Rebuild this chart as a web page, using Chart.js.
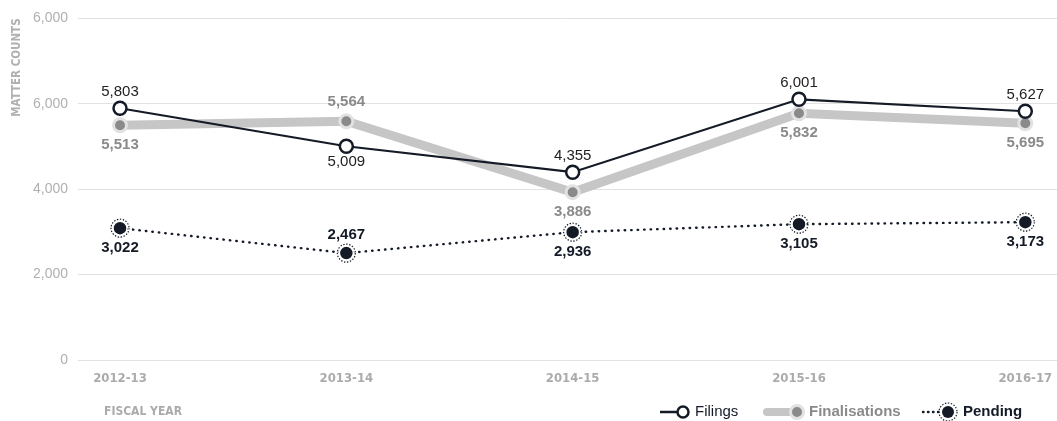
<!DOCTYPE html>
<html>
<head>
<meta charset="utf-8">
<script src="https://cdn.jsdelivr.net/npm/chart.js@4.4.1/dist/chart.umd.min.js"></script>
<style>
  html, body { margin: 0; padding: 0; background: #fff; }
  #wrap { width: 1057px; height: 421px; position: relative; }
</style>
</head>
<body>
<div id="wrap"><canvas id="myChart" width="1057" height="421"></canvas></div>
<script>
// Chart data
var fiscalYears = ['2012-13', '2013-14', '2014-15', '2015-16', '2016-17'];
// values
var filings = [5895, 5006, 4398, 6105, 5825];
var finalisations = [5497, 5590, 3930, 5778, 5544];
var pending = [3088, 2503, 2994, 3181, 3228];
// numbers printed next to each marker
var filingsPrinted = [5803, 5009, 4355, 6001, 5627];
var finalisationsPrinted = [5513, 5564, 3886, 5832, 5695];
var pendingPrinted = [3022, 2467, 2936, 3105, 3173];
// y axis ticks (top label reads 6,000 in the original)
var yTickValues = [0, 2000, 4000, 6000, 8000];
var yTickLabels = ['0', '2,000', '4,000', '6,000', '6,000'];

var NAVY = '#141a26';
var NARROW = '"Liberation Sans Narrow", "DejaVu Sans Condensed", "Arial Narrow", sans-serif';
var SANS = '"Liberation Sans", Arial, sans-serif';

function toPoints(values) {
    return values.map(function(v, i) { return { x: i, y: v }; });
}

// Plugin for data labels, dotted rings, legend and x title
var extras = {
    id: 'extras',
    afterDatasetsDraw: function(chart) {
        var ctx = chart.ctx;
        ctx.save();
        // dotted rings round the pending markers
        chart.getDatasetMeta(2).data.forEach(function(p) {
            ctx.beginPath();
            ctx.setLineDash([1.4, 1.6]);
            ctx.lineWidth = 1.2;
            ctx.strokeStyle = NAVY;
            ctx.arc(p.x, p.y, 9, 0, Math.PI * 2);
            ctx.stroke();
        });
        ctx.setLineDash([]);
        // value labels
        ctx.textAlign = 'center';
        ctx.textBaseline = 'middle';
        chart.data.datasets.forEach(function(ds, di) {
            var meta = chart.getDatasetMeta(di);
            ctx.font = ds.labelFont;
            ctx.fillStyle = ds.labelColor;
            meta.data.forEach(function(p, i) {
                var dy = ds.labelSide[i] === 'above' ? -ds.labelGap[0] : ds.labelGap[1];
                ctx.fillText(ds.printed[i].toLocaleString('en-US'), p.x, p.y + dy);
            });
        });
        ctx.restore();
    },
    afterDraw: function(chart) {
        var ctx = chart.ctx;
        var y = 412;
        ctx.save();
        ctx.textBaseline = 'middle';
        ctx.textAlign = 'left';

        // x axis title
        ctx.font = 'bold 12px ' + NARROW;
        ctx.fillStyle = '#ababab';
        ctx.fillText('FISCAL YEAR', 104, y);

        // Filings
        ctx.strokeStyle = NAVY;
        ctx.lineWidth = 2.5;
        ctx.beginPath(); ctx.moveTo(660, y); ctx.lineTo(678, y); ctx.stroke();
        ctx.beginPath(); ctx.arc(683, y, 5.5, 0, Math.PI * 2);
        ctx.fillStyle = '#fff'; ctx.fill(); ctx.stroke();
        ctx.font = '15px ' + SANS;
        ctx.fillStyle = NAVY;
        ctx.fillText('Filings', 695, y);

        // Finalisations
        ctx.strokeStyle = '#c6c6c6';
        ctx.lineWidth = 8;
        ctx.lineCap = 'round';
        ctx.beginPath(); ctx.moveTo(767, y); ctx.lineTo(797, y); ctx.stroke();
        ctx.lineCap = 'butt';
        ctx.beginPath(); ctx.arc(797, y, 6.5, 0, Math.PI * 2);
        ctx.fillStyle = '#8a8a8a'; ctx.fill();
        ctx.strokeStyle = '#e2e2e2'; ctx.lineWidth = 3; ctx.stroke();
        ctx.font = 'bold 15px ' + SANS;
        ctx.fillStyle = '#8a8a8a';
        ctx.fillText('Finalisations', 809, y);

        // Pending
        ctx.strokeStyle = NAVY;
        ctx.lineWidth = 2.4;
        ctx.lineCap = 'round';
        ctx.setLineDash([0.5, 4.5]);
        ctx.beginPath(); ctx.moveTo(923, y); ctx.lineTo(939, y); ctx.stroke();
        ctx.setLineDash([]);
        ctx.lineCap = 'butt';
        ctx.beginPath(); ctx.arc(948, y, 6, 0, Math.PI * 2);
        ctx.fillStyle = NAVY; ctx.fill();
        ctx.setLineDash([1.4, 1.6]);
        ctx.lineWidth = 1.2;
        ctx.beginPath(); ctx.arc(948, y, 9, 0, Math.PI * 2); ctx.stroke();
        ctx.setLineDash([]);
        ctx.font = 'bold 15px ' + SANS;
        ctx.fillStyle = NAVY;
        ctx.fillText('Pending', 963, y);

        ctx.restore();
    }
};

var ctx = document.getElementById('myChart').getContext('2d');
var myChart = new Chart(ctx, {
    type: 'line',
    data: {
        datasets: [{
            label: 'Filings',
            data: toPoints(filings),
            printed: filingsPrinted,
            labelSide: ['above', 'below', 'above', 'above', 'above'],
            labelGap: [16, 16],
            labelFont: '15px ' + SANS,
            labelColor: '#222',
            borderColor: NAVY,
            borderWidth: 2.2,
            pointRadius: 6.5,
            pointBorderWidth: 2.5,
            pointBackgroundColor: '#fff',
            pointBorderColor: NAVY,
            tension: 0
        },
        {
            label: 'Finalisations',
            data: toPoints(finalisations),
            printed: finalisationsPrinted,
            labelSide: ['below', 'above', 'below', 'below', 'below'],
            labelGap: [19, 20],
            labelFont: 'bold 15px ' + SANS,
            labelColor: '#8a8a8a',
            borderColor: '#c6c6c6',
            borderWidth: 9,
            pointRadius: 6.5,
            pointBorderWidth: 3,
            pointBackgroundColor: '#8a8a8a',
            pointBorderColor: '#e2e2e2',
            tension: 0
        },
        {
            label: 'Pending',
            data: toPoints(pending),
            printed: pendingPrinted,
            labelSide: ['below', 'above', 'below', 'below', 'below'],
            labelGap: [18, 20],
            labelFont: 'bold 15px ' + SANS,
            labelColor: NAVY,
            borderColor: NAVY,
            borderWidth: 2.4,
            borderCapStyle: 'round',
            borderDash: [0.5, 6],
            pointRadius: 7,
            pointBorderWidth: 1.5,
            pointBackgroundColor: NAVY,
            pointBorderColor: '#fff',
            tension: 0
        }]
    },
    options: {
        responsive: false,
        animation: false,
        layout: { autoPadding: false, padding: { top: 18, left: 0, right: 0, bottom: 0 } },
        plugins: {
            legend: { display: false },
            tooltip: { enabled: false }
        },
        scales: {
            x: {
                type: 'linear',
                min: -0.1856,
                max: 4.14,
                grid: { display: false },
                border: { display: false },
                afterBuildTicks: function(scale) {
                    scale.ticks = fiscalYears.map(function(c, i) { return { value: i }; });
                },
                afterFit: function(scale) { scale.height = 61; },
                ticks: {
                    padding: 3,
                    maxRotation: 0,
                    autoSkip: false,
                    color: '#ababab',
                    font: { family: NARROW, size: 13, weight: 'bold' },
                    callback: function(value) { return fiscalYears[value]; }
                }
            },
            y: {
                min: 0,
                max: 8000,
                grid: { color: '#e2e2e2', lineWidth: 1, drawTicks: false },
                border: { display: false },
                afterBuildTicks: function(scale) {
                    scale.ticks = yTickValues.map(function(v) { return { value: v }; });
                },
                afterFit: function(scale) { scale.width = 78; },
                title: {
                    display: true,
                    text: 'MATTER COUNTS',
                    align: 'end',
                    color: '#b0b0b0',
                    padding: { top: 10, bottom: 0 },
                    font: { family: NARROW, size: 11.5, weight: 'bold' }
                },
                ticks: {
                    padding: 10,
                    color: '#b0b0b0',
                    font: { family: SANS, size: 14 },
                    callback: function(value, index) { return yTickLabels[index]; }
                }
            }
        }
    },
    plugins: [extras]
});
</script>
</body>
</html>
